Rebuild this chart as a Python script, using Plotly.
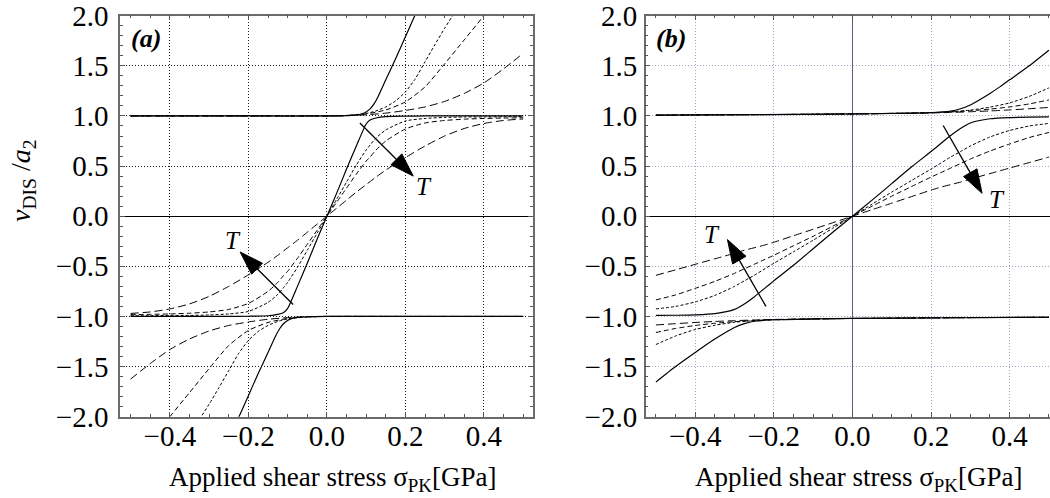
import plotly.graph_objects as go

FONT = "Liberation Serif"

# ---------------- panel (a) data ----------------
A_MID_X = [-0.5, -0.45, -0.4, -0.35, -0.3, -0.25, -0.2, -0.15, -0.125, -0.11, -0.1, -0.075, -0.05, -0.025,
           0, 0.025, 0.05, 0.075, 0.1, 0.11, 0.125, 0.15, 0.2, 0.25, 0.3, 0.35, 0.4, 0.45, 0.5]
A_MID_SOLID = [-1, -1, -1, -1, -1, -1, -0.998, -0.993, -0.98, -0.96, -0.92, -0.70, -0.47, -0.23,
               0, 0.23, 0.47, 0.70, 0.92, 0.96, 0.98, 0.993, 0.998, 1, 1, 1, 1, 1, 1]
A_MID_DOT = [-0.993, -0.992, -0.99, -0.99, -0.985, -0.975, -0.95, -0.86, -0.78, -0.71, -0.66, -0.51, -0.34, -0.17,
             0, 0.17, 0.34, 0.51, 0.66, 0.71, 0.78, 0.86, 0.95, 0.975, 0.985, 0.99, 0.99, 0.992, 0.993]
A_MID_MED = [-0.982, -0.979, -0.975, -0.968, -0.955, -0.93, -0.87, -0.75, -0.66, -0.59, -0.55, -0.42, -0.28, -0.14,
             0, 0.14, 0.28, 0.42, 0.55, 0.59, 0.66, 0.75, 0.87, 0.93, 0.955, 0.968, 0.975, 0.979, 0.982]
A_MID_LONG = [-0.97, -0.955, -0.925, -0.875, -0.80, -0.70, -0.585, -0.46, -0.39, -0.345, -0.315, -0.24, -0.16, -0.08,
              0, 0.08, 0.16, 0.24, 0.315, 0.345, 0.39, 0.46, 0.585, 0.70, 0.80, 0.875, 0.925, 0.955, 0.97]

A_UP_SOLID_X = [-0.5, -0.25, 0, 0.05, 0.075, 0.09, 0.1, 0.11, 0.12, 0.13, 0.15, 0.175, 0.2, 0.225, 0.25]
A_UP_SOLID = [1.0, 1.0, 1.0, 1.003, 1.01, 1.022, 1.04, 1.07, 1.12, 1.19, 1.36, 1.57, 1.79, 2.01, 2.23]
A_LO_SOLID_X = [-0.25, -0.225, -0.2, -0.175, -0.15, -0.13, -0.12, -0.11, -0.1, -0.09, -0.075, -0.05, 0, 0.25, 0.5]
A_LO_SOLID = [-2.23, -2.01, -1.79, -1.57, -1.36, -1.19, -1.12, -1.07, -1.04, -1.022, -1.01, -1.003, -1.0, -1.0, -1.0]

A_UP_DOT_X = [-0.5, -0.25, 0, 0.05, 0.1, 0.125, 0.15, 0.175, 0.2, 0.225, 0.25, 0.275, 0.3, 0.325, 0.35]
A_UP_DOT = [1, 1, 1, 1.005, 1.025, 1.05, 1.09, 1.15, 1.24, 1.37, 1.54, 1.71, 1.875, 2.03, 2.2]
A_LO_DOT_X = [-0.35, -0.325, -0.3, -0.275, -0.25, -0.225, -0.2, -0.175, -0.15, -0.125, -0.1, -0.05, 0, 0.25, 0.5]
A_LO_DOT = [-2.2, -2.03, -1.875, -1.71, -1.54, -1.37, -1.24, -1.15, -1.09, -1.05, -1.025, -1.005, -1, -1, -1]

A_UP_MED_X = [-0.5, -0.25, 0, 0.05, 0.1, 0.15, 0.2, 0.25, 0.3, 0.35, 0.4, 0.45]
A_UP_MED = [1, 1, 1, 1.004, 1.02, 1.06, 1.14, 1.29, 1.52, 1.76, 2.0, 2.25]
A_LO_MED_X = [-0.45, -0.4, -0.35, -0.3, -0.25, -0.2, -0.15, -0.1, -0.05, 0, 0.25, 0.5]
A_LO_MED = [-2.25, -2.0, -1.76, -1.52, -1.29, -1.14, -1.06, -1.02, -1.004, -1, -1, -1]

A_UP_LONG_X = [-0.5, -0.25, 0, 0.05, 0.1, 0.15, 0.2, 0.25, 0.3, 0.35, 0.4, 0.45, 0.5]
A_UP_LONG = [1, 1, 1, 1.003, 1.012, 1.028, 1.055, 1.09, 1.145, 1.225, 1.33, 1.47, 1.625]
A_LO_LONG_X = [-0.5, -0.45, -0.4, -0.35, -0.3, -0.25, -0.2, -0.15, -0.1, -0.05, 0, 0.25, 0.5]
A_LO_LONG = [-1.625, -1.47, -1.33, -1.225, -1.145, -1.09, -1.055, -1.028, -1.012, -1.003, -1, -1, -1]

# ---------------- panel (b) data ----------------
B_MID_X = [-0.5, -0.45, -0.4, -0.35, -0.3, -0.275, -0.25, -0.225, -0.2, -0.15, -0.1, -0.05,
           0, 0.05, 0.1, 0.15, 0.2, 0.225, 0.25, 0.275, 0.3, 0.35, 0.4, 0.45, 0.5]
B_MID_SOLID = [-0.99, -0.988, -0.984, -0.972, -0.93, -0.875, -0.805, -0.725, -0.645, -0.49, -0.325, -0.16,
               0, 0.16, 0.325, 0.49, 0.645, 0.725, 0.805, 0.875, 0.93, 0.972, 0.984, 0.988, 0.99]
B_MID_DOT = [-0.925, -0.90, -0.855, -0.79, -0.70, -0.645, -0.59, -0.53, -0.47, -0.355, -0.24, -0.12,
             0, 0.12, 0.24, 0.355, 0.47, 0.53, 0.59, 0.645, 0.70, 0.79, 0.855, 0.90, 0.925]
B_MID_MED = [-0.835, -0.785, -0.72, -0.65, -0.57, -0.525, -0.48, -0.435, -0.39, -0.295, -0.20, -0.10,
             0, 0.10, 0.20, 0.295, 0.39, 0.435, 0.48, 0.525, 0.57, 0.65, 0.72, 0.785, 0.835]
B_MID_LONG = [-0.59, -0.535, -0.48, -0.425, -0.37, -0.34, -0.315, -0.29, -0.26, -0.195, -0.13, -0.065,
              0, 0.065, 0.13, 0.195, 0.26, 0.29, 0.315, 0.34, 0.37, 0.425, 0.48, 0.535, 0.59]

B_UP_SOLID_X = [-0.5, -0.25, 0, 0.1, 0.2, 0.25, 0.275, 0.3, 0.325, 0.35, 0.375, 0.4, 0.45, 0.5]
B_UP_SOLID = [1.008, 1.013, 1.02, 1.025, 1.033, 1.048, 1.072, 1.11, 1.165, 1.225, 1.29, 1.36, 1.5, 1.655]
B_LO_SOLID_X = [-0.5, -0.45, -0.4, -0.375, -0.35, -0.325, -0.3, -0.275, -0.25, -0.2, -0.1, 0, 0.25, 0.5]
B_LO_SOLID = [-1.655, -1.5, -1.36, -1.29, -1.225, -1.165, -1.11, -1.072, -1.048, -1.033, -1.025, -1.02, -1.013, -1.008]

B_UP_X = [-0.5, -0.25, 0, 0.1, 0.2, 0.25, 0.3, 0.35, 0.4, 0.45, 0.5]
B_UP_DOT = [1.008, 1.013, 1.02, 1.025, 1.033, 1.042, 1.058, 1.088, 1.13, 1.195, 1.28]
B_UP_MED = [1.008, 1.013, 1.02, 1.025, 1.033, 1.04, 1.052, 1.068, 1.09, 1.12, 1.16]
B_UP_LONG = [1.008, 1.013, 1.02, 1.025, 1.03, 1.035, 1.042, 1.05, 1.06, 1.072, 1.085]
B_LO_X = [-0.5, -0.45, -0.4, -0.35, -0.3, -0.25, -0.2, -0.1, 0, 0.25, 0.5]
B_LO_DOT = [-1.28, -1.195, -1.13, -1.088, -1.058, -1.042, -1.033, -1.025, -1.02, -1.013, -1.008]
B_LO_MED = [-1.16, -1.12, -1.09, -1.068, -1.052, -1.04, -1.033, -1.025, -1.02, -1.013, -1.008]
B_LO_LONG = [-1.085, -1.072, -1.06, -1.05, -1.042, -1.035, -1.03, -1.025, -1.02, -1.013, -1.008]

# arrows: (tail_x, tail_y, tip_x, tip_y) and "T" label positions
A_ARROWS = [(0.084, 0.93, 0.22, 0.40), (-0.086, -0.88, -0.221, -0.357)]
A_TLABELS = [(0.247, 0.30), (-0.24, -0.245)]
B_ARROWS = [(0.231, 0.905, 0.33, 0.228), (-0.22, -0.9, -0.318, -0.233)]
B_TLABELS = [(0.368, 0.17), (-0.357, -0.18)]

X_LABEL = "Applied shear stress σ<sub>PK</sub>[GPa]"
Y_LABEL = "<i>v</i><sub>DIS</sub> /<i>a</i><sub>2</sub>"

STYLES = {
    "solid": dict(dash="solid", width=1.2),
    "dot": dict(dash="3px,2px", width=1.0),
    "med": dict(dash="5px,3px", width=1.0),
    "long": dict(dash="8px,4px", width=1.0),
}

fig = go.Figure()


def add(xs, ys, style, xa, ya):
    st = STYLES[style]
    fig.add_trace(go.Scatter(
        x=xs, y=ys, mode="lines", xaxis=xa, yaxis=ya, showlegend=False, hoverinfo="skip",
        line=dict(color="black", width=st["width"], dash=st["dash"], shape="spline", smoothing=0.6)))


# panel (a)
for ys, st in [(A_MID_LONG, "long"), (A_MID_MED, "med"), (A_MID_DOT, "dot"), (A_MID_SOLID, "solid")]:
    add(A_MID_X, ys, st, "x", "y")
add(A_UP_LONG_X, A_UP_LONG, "long", "x", "y")
add(A_LO_LONG_X, A_LO_LONG, "long", "x", "y")
add(A_UP_MED_X, A_UP_MED, "med", "x", "y")
add(A_LO_MED_X, A_LO_MED, "med", "x", "y")
add(A_UP_DOT_X, A_UP_DOT, "dot", "x", "y")
add(A_LO_DOT_X, A_LO_DOT, "dot", "x", "y")
add(A_UP_SOLID_X, A_UP_SOLID, "solid", "x", "y")
add(A_LO_SOLID_X, A_LO_SOLID, "solid", "x", "y")

# panel (b)
for ys, st in [(B_MID_LONG, "long"), (B_MID_MED, "med"), (B_MID_DOT, "dot"), (B_MID_SOLID, "solid")]:
    add(B_MID_X, ys, st, "x2", "y2")
for ys, st in [(B_UP_LONG, "long"), (B_UP_MED, "med"), (B_UP_DOT, "dot")]:
    add(B_UP_X, ys, st, "x2", "y2")
for ys, st in [(B_LO_LONG, "long"), (B_LO_MED, "med"), (B_LO_DOT, "dot")]:
    add(B_LO_X, ys, st, "x2", "y2")
add(B_UP_SOLID_X, B_UP_SOLID, "solid", "x2", "y2")
add(B_LO_SOLID_X, B_LO_SOLID, "solid", "x2", "y2")

# arrows
for arrows, xa, ya in [(A_ARROWS, "x", "y"), (B_ARROWS, "x2", "y2")]:
    for tx, ty, hx, hy in arrows:
        fig.add_trace(go.Scatter(
            x=[tx, hx], y=[ty, hy], mode="lines+markers", xaxis=xa, yaxis=ya,
            showlegend=False, hoverinfo="skip",
            line=dict(color="black", width=1.3),
            marker=dict(symbol="arrow", size=[0, 25], angleref="previous", color="black",
                        opacity=1, line=dict(width=1, color="black"))))

annotations = []
for labels, xr, yr in [(A_TLABELS, "x", "y"), (B_TLABELS, "x2", "y2")]:
    for lx, ly in labels:
        annotations.append(dict(x=lx, y=ly, xref=xr, yref=yr, text="<i>T</i>", showarrow=False,
                                font=dict(family=FONT, size=25, color="black")))

H = 498.0
W = 1050.0
annotations += [
    dict(x=129 / W, y=1 - 39 / H, xref="paper", yref="paper", text="<b><i>(a)</i></b>", showarrow=False,
         xanchor="left", yanchor="middle", font=dict(family=FONT, size=26, color="black")),
    dict(x=654 / W, y=1 - 39 / H, xref="paper", yref="paper", text="<b><i>(b)</i></b>", showarrow=False,
         xanchor="left", yanchor="middle", font=dict(family=FONT, size=26, color="black")),
    dict(x=22 / W, y=1 - 181 / H, xref="paper", yref="paper", text=Y_LABEL, showarrow=False,
         textangle=-90, xanchor="center", yanchor="middle", font=dict(family=FONT, size=28, color="black")),
    dict(x=0.015, y=1 - 479 / H, xref="x", yref="paper", text=X_LABEL, showarrow=False,
         xanchor="center", yanchor="middle", font=dict(family=FONT, size=27, color="black")),
    dict(x=0.015, y=1 - 479 / H, xref="x2", yref="paper", text=X_LABEL, showarrow=False,
         xanchor="center", yanchor="middle", font=dict(family=FONT, size=27, color="black")),
]

YDOM = [1 - 416.7 / H, 1 - 15.7 / H]
TICKFONT = dict(family=FONT, size=29, color="black")
common = dict(showline=True, linecolor="#6b6b6b", linewidth=1.5, ticks="inside", ticklen=5, tickwidth=1,
              tickcolor="#555", tickfont=TICKFONT, showgrid=True, ticklabeloverflow="allow",
              griddash="1px,2px", gridwidth=1, tickformat=".1f", fixedrange=True, automargin=False)
minor_x = dict(dtick=0.05, ticks="inside", ticklen=3, tickcolor="#555", showgrid=False)
minor_y = dict(dtick=0.1, ticks="inside", ticklen=3, tickcolor="#555", showgrid=False)

fig.update_layout(
    width=1050, height=498, margin=dict(l=0, r=0, t=0, b=0, pad=0, autoexpand=False),
    paper_bgcolor="white", plot_bgcolor="white", showlegend=False,
    font=dict(family=FONT, size=29, color="black"),
    xaxis=dict(common, domain=[120 / W, 533 / W], range=[-0.527, 0.525], tick0=0, dtick=0.2,
               minor=minor_x, gridcolor="#1a1a1a", zeroline=False, anchor="y", mirror="ticks",
               ticklabelstandoff=-7),
    yaxis=dict(common, domain=YDOM, range=[-2, 2], tick0=0, dtick=0.5, minor=minor_y, gridcolor="#1a1a1a",
               zeroline=True, zerolinecolor="black", zerolinewidth=1, anchor="x", mirror="ticks",
               ticklabelstandoff=4),
    xaxis2=dict(common, domain=[645.7 / W, 1.0], range=[-0.526, 0.5028], tick0=0, dtick=0.2,
                minor=minor_x, gridcolor="#a3a3c2", zeroline=True, zerolinecolor="#5d5a85",
                zerolinewidth=1, anchor="y2", mirror="ticks", ticklabelstandoff=-7),
    yaxis2=dict(common, domain=YDOM, range=[-2, 2], tick0=0, dtick=0.5, minor=minor_y, gridcolor="#a3a3c2",
                zeroline=True, zerolinecolor="black", zerolinewidth=1, anchor="x2", mirror=False,
                ticklabelstandoff=1),
    annotations=annotations,
)

fig.write_html("out.html")
